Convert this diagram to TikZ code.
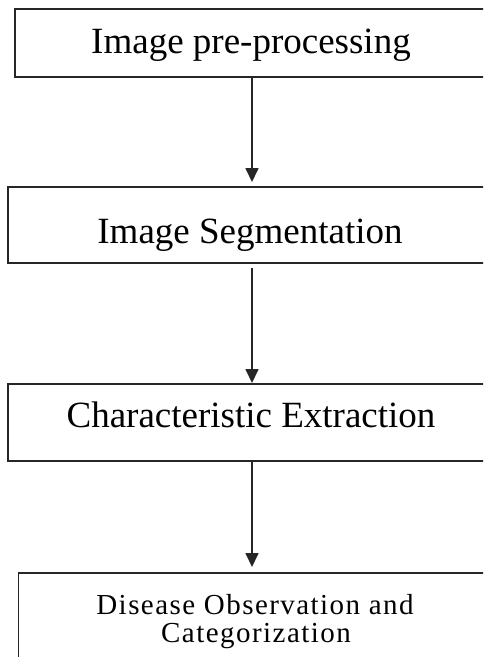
\documentclass[tikz,border=0pt]{standalone}
\usepackage{fontspec}
\setmainfont{Liberation Serif}
\newfontfamily\spacedserif[LetterSpace=5]{Liberation Serif}
\usetikzlibrary{arrows.meta}
\tikzset{
  box/.style={draw=black!85, line width=1.7pt, rectangle, inner sep=0pt, outer sep=0pt},
  lbl/.style={anchor=base, inner sep=0pt, font=\fontsize{37}{40}\selectfont},
  lblsmall/.style={anchor=base, inner sep=0pt, font=\spacedserif\fontsize{29}{30}\selectfont},
  arr/.style={draw=black!85, line width=1.7pt, -{Triangle[length=14pt,width=13pt]}}
}
\begin{document}
\begin{tikzpicture}[x=1pt,y=-1pt]
\clip (0,0) rectangle (483,657);
\fill[white] (0,0) rectangle (483,657);
% boxes
\node[box, minimum width=480pt, minimum height=68pt] (b1) at (255,43) {};
\node[box, minimum width=487pt, minimum height=76pt] (b2) at (251.5,225) {};
\node[box, minimum width=487pt, minimum height=77pt] (b3) at (251.5,422.5) {};
\node[box, minimum width=476.5pt, minimum height=107pt] (b4) at (256.75,626.5) {};
% labels
\node[lbl] (t1) at (251,53) {Image pre-processing};
\node[lbl] (t2) at (250,243) {Image Segmentation};
\node[lbl] (t3) at (251,427) {Characteristic Extraction};
\node[lblsmall] (t4a) at (255,614) {Disease Observation and};
\node[lblsmall] (t4b) at (256,642) {Categorization};
% arrows
\coordinate (ax) at (252,0);
\draw[arr, shorten >=5pt] (b1.south -| ax) -- (b2.north -| ax);
\draw[arr, shorten <=5pt, shorten >=1pt] (b2.south -| ax) -- (b3.north -| ax);
\draw[arr, shorten >=6pt] (b3.south -| ax) -- (b4.north -| ax);
\end{tikzpicture}
\end{document}
